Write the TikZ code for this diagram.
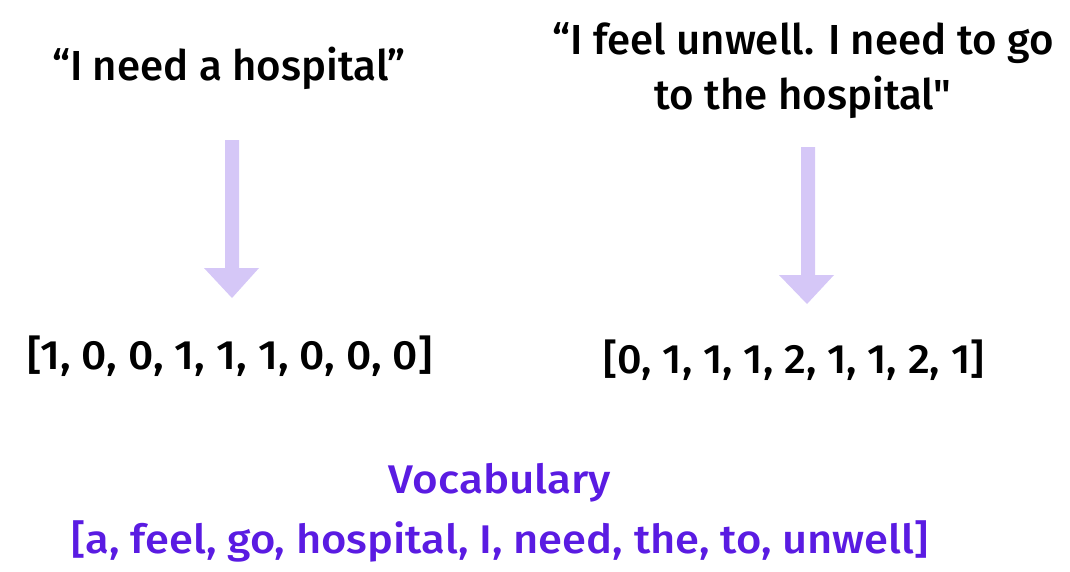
\documentclass[tikz,border=0pt]{standalone}
\usepackage{fontspec}
\setmainfont{Fira Sans Medium}[Ligatures=TeXOff]
\definecolor{arrowc}{HTML}{D5C7F7}
\definecolor{vocabc}{HTML}{5A1BE2}
\tikzset{
  txt/.style={inner sep=0pt, font=\fontsize{42}{55}\selectfont, align=center, text=black},
  vec/.style={inner sep=0pt, font=\fontsize{41}{48}\selectfont, text=black},
  voc/.style={inner sep=0pt, font=\fontsize{40}{46}\selectfont, text=vocabc},
  bigarrow/.style={fill=arrowc, draw=none},
}
\begin{document}
\begin{tikzpicture}[x=1pt,y=-1pt]
\useasboundingbox (0,0) rectangle (1070,571);
\node[txt] (s1) at (229,68) {“I need a hospital”};
\node[txt] (s2) at (803,71) {“I feel unwell. I need to go\\to the hospital"};
\node[vec] (v1) at (230,356) {\scalebox{1.08}[1]{[1, 0, 0, 1, 1, 1, 0, 0, 0]}};
\node[vec] (v2) at (794,360) {\scalebox{1.05}[1]{[0, 1, 1, 1, 2, 1, 1, 2, 1]}};
\node[voc] (vt) at (500,483) {\scalebox{1.1}[1]{Vocabulary}};
\node[voc] (vl) at (500,541) {\scalebox{1.088}[1]{[a, feel, go, hospital, I, need, the, to, unwell]}};
\fill[bigarrow] (225,140) -- (239,140) -- (239,268) -- (259,268) -- (232,298) -- (204,268) -- (225,268) -- cycle;
\fill[bigarrow] (801,147) -- (815,147) -- (815,275) -- (834,275) -- (807,304) -- (779,275) -- (801,275) -- cycle;
\end{tikzpicture}
\end{document}
